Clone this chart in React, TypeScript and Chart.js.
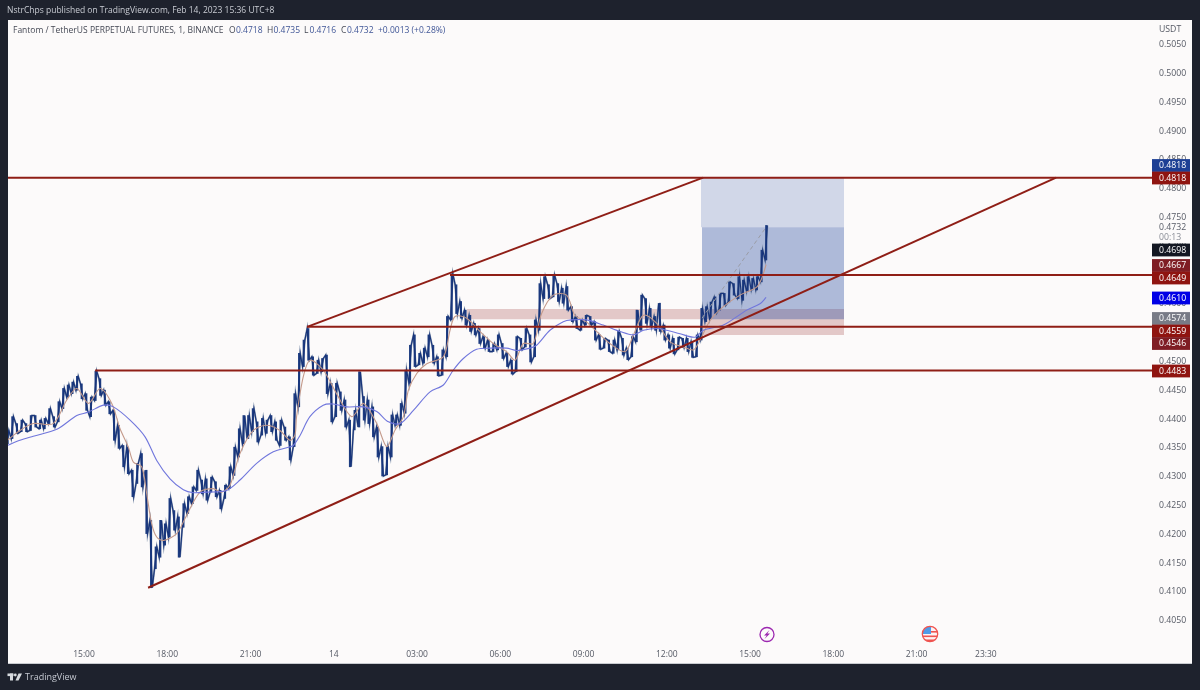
import React, { useEffect, useRef } from 'react';
import { Chart, registerables } from 'chart.js';

Chart.register(...registerables);

// 10 minute candles, first one at 12:15 on Feb 13, hours run on past 24 into Feb 14
const firstCandleHour = 12.25;
const candleStepHours = 1 / 6;

const highs = [
  0.4379, 0.4403, 0.4391, 0.4397, 0.4391, 0.4405, 0.4405, 0.4397, 0.44, 0.4417,
  0.4403, 0.4429, 0.4452, 0.4458, 0.4463, 0.4473, 0.446, 0.4443, 0.4437, 0.4482,
  0.4469, 0.4449, 0.4429, 0.4414, 0.4388, 0.4353, 0.435, 0.431, 0.4322, 0.4339,
  0.431, 0.4223, 0.4177, 0.4223, 0.4217, 0.4261, 0.424, 0.4229, 0.4252, 0.4264,
  0.4281, 0.431, 0.4293, 0.4295, 0.4298, 0.429, 0.4275, 0.4284, 0.4316, 0.435,
  0.4382, 0.4405, 0.4405, 0.4417, 0.4394, 0.44, 0.4397, 0.4405, 0.4394, 0.4397,
  0.4385, 0.4368, 0.4443, 0.4513, 0.4536, 0.4556, 0.4507, 0.4501, 0.4504, 0.451,
  0.4461, 0.4461, 0.4446, 0.4432, 0.4397, 0.4414, 0.4481, 0.4438, 0.4432, 0.442,
  0.4385, 0.4351, 0.4351, 0.4406, 0.4406, 0.4426, 0.4484, 0.4527, 0.4545, 0.4513,
  0.4522, 0.4545, 0.4527, 0.4507, 0.4519, 0.4577, 0.4651, 0.4632, 0.4603, 0.4588,
  0.4579, 0.4565, 0.4556, 0.4542, 0.4536, 0.453, 0.4545, 0.453, 0.4513, 0.4501,
  0.4542, 0.4539, 0.4556, 0.4545, 0.4571, 0.4634, 0.4646, 0.4632, 0.4649, 0.4634,
  0.4626, 0.4629, 0.4594, 0.4577, 0.4571, 0.4579, 0.4577, 0.4568, 0.4545, 0.4539,
  0.4536, 0.4536, 0.4551, 0.4539, 0.4522, 0.4542, 0.4588, 0.4614, 0.4608, 0.4591,
  0.4577, 0.46, 0.4562, 0.4545, 0.4539, 0.4541, 0.4539, 0.4539, 0.4533, 0.4545,
  0.4591, 0.4594, 0.4602, 0.4611, 0.4617, 0.4617, 0.4637, 0.4634, 0.4646, 0.464,
  0.4646, 0.4643, 0.4646, 0.4692, 0.4735,
];

const lows = [
  0.4356, 0.4365, 0.4374, 0.4377, 0.4377, 0.4379, 0.4385, 0.4382, 0.4382, 0.4391,
  0.4385, 0.4394, 0.4417, 0.4437, 0.4443, 0.4449, 0.4434, 0.4414, 0.4403, 0.4431,
  0.444, 0.4423, 0.4408, 0.4362, 0.4348, 0.4316, 0.4304, 0.4264, 0.4287, 0.4281,
  0.42, 0.4106, 0.4139, 0.4159, 0.418, 0.4194, 0.4206, 0.4159, 0.4211, 0.4235,
  0.4252, 0.4275, 0.4269, 0.4258, 0.4272, 0.4264, 0.4243, 0.4261, 0.4278, 0.4301,
  0.4333, 0.4356, 0.4365, 0.4377, 0.4359, 0.4371, 0.4374, 0.4377, 0.4362, 0.4353,
  0.4362, 0.4328, 0.4351, 0.442, 0.449, 0.4501, 0.4475, 0.4478, 0.4481, 0.4443,
  0.4394, 0.4403, 0.4414, 0.4385, 0.4316, 0.438, 0.4385, 0.4397, 0.4391, 0.4368,
  0.4333, 0.43, 0.4302, 0.4333, 0.4388, 0.4388, 0.4409, 0.4461, 0.449, 0.4493,
  0.4496, 0.4507, 0.4496, 0.4474, 0.4475, 0.4507, 0.4571, 0.4582, 0.4574, 0.4562,
  0.4551, 0.4545, 0.453, 0.4522, 0.4516, 0.4516, 0.4519, 0.4504, 0.449, 0.4477,
  0.4481, 0.4519, 0.4524, 0.4498, 0.4507, 0.4553, 0.4608, 0.4608, 0.4611, 0.4603,
  0.46, 0.4588, 0.4568, 0.4556, 0.4553, 0.4562, 0.4562, 0.4536, 0.452, 0.4522,
  0.4516, 0.4513, 0.4519, 0.451, 0.4502, 0.4507, 0.4533, 0.4553, 0.4565, 0.4559,
  0.4553, 0.4551, 0.4536, 0.4522, 0.4512, 0.4519, 0.4523, 0.4516, 0.4506, 0.4507,
  0.4536, 0.4568, 0.4573, 0.4582, 0.4588, 0.4596, 0.4602, 0.4614, 0.4608, 0.4605,
  0.462, 0.4623, 0.4623, 0.4637, 0.4675,
];

const closes = [
  0.4365, 0.4397, 0.4377, 0.4391, 0.4382, 0.4397, 0.4388, 0.4391, 0.4394, 0.4405,
  0.4394, 0.442, 0.4443, 0.4449, 0.4458, 0.4466, 0.4443, 0.442, 0.4434, 0.4466,
  0.4446, 0.4429, 0.4411, 0.4379, 0.4368, 0.4333, 0.4316, 0.4298, 0.431, 0.4298,
  0.4211, 0.4142, 0.4159, 0.42, 0.42, 0.4235, 0.4217, 0.4206, 0.424, 0.4258,
  0.4275, 0.4293, 0.4281, 0.4278, 0.4284, 0.4272, 0.4258, 0.4275, 0.4304, 0.4342,
  0.4368, 0.4382, 0.4388, 0.4394, 0.4377, 0.4388, 0.4391, 0.4388, 0.4374, 0.4382,
  0.4371, 0.4345, 0.4426, 0.4501, 0.4524, 0.4513, 0.449, 0.4493, 0.4496, 0.4461,
  0.4403, 0.4449, 0.4432, 0.4403, 0.4362, 0.4403, 0.4443, 0.442, 0.4414, 0.4385,
  0.4351, 0.4322, 0.4339, 0.4397, 0.4397, 0.4414, 0.4467, 0.4513, 0.4501, 0.4501,
  0.451, 0.4524, 0.4507, 0.4481, 0.451, 0.4571, 0.4634, 0.46, 0.4588, 0.4574,
  0.4562, 0.4556, 0.4539, 0.453, 0.4524, 0.4524, 0.4527, 0.4513, 0.4498, 0.4484,
  0.453, 0.4527, 0.4545, 0.451, 0.4559, 0.4623, 0.4626, 0.462, 0.4629, 0.4617,
  0.4611, 0.46, 0.4574, 0.4562, 0.4565, 0.4571, 0.4568, 0.4545, 0.4527, 0.453,
  0.4522, 0.453, 0.4539, 0.4516, 0.451, 0.4536, 0.4562, 0.4603, 0.4588, 0.4571,
  0.4562, 0.4559, 0.4545, 0.453, 0.4524, 0.4533, 0.453, 0.4527, 0.451, 0.4539,
  0.4574, 0.4582, 0.4596, 0.4591, 0.4608, 0.4602, 0.4631, 0.462, 0.4628, 0.4631,
  0.4631, 0.4634, 0.4637, 0.4678, 0.4732,
];

const fastEmaHours = [
  12.24, 12.69, 13.17, 13.89, 14.38, 14.74, 15.16, 15.58, 16.0, 16.3, 16.6, 16.78, 17.08, 17.26, 17.44,
  17.62, 17.86, 18.34, 18.7, 19.18, 19.66, 19.96, 20.26, 20.62, 21.1, 21.58, 22.06, 22.42, 22.6, 22.66,
  22.9, 23.14, 23.62, 24.1, 24.65, 25.07, 25.55, 25.91, 26.21, 26.51, 26.69, 26.99, 27.35, 27.95, 28.19,
  28.37, 28.79, 29.27, 29.75, 30.23, 30.53, 30.83, 31.19, 31.49, 31.91, 32.39, 32.69, 33.09, 33.47, 33.95,
  34.5, 34.8, 35.16, 35.64, 36.12, 36.6, 36.96, 37.2, 37.56, 38.04, 38.64, 39.24, 39.42, 39.58,
];
const fastEmaPrices = [
  0.4362, 0.4379, 0.4391, 0.4391, 0.4432, 0.4452, 0.4426, 0.4452, 0.4426, 0.4382, 0.435, 0.4324, 0.4316, 0.4269, 0.4217,
  0.4194, 0.4188, 0.42, 0.4232, 0.4272, 0.4278, 0.4272, 0.4284, 0.4339, 0.4379, 0.4388, 0.4379, 0.4362, 0.4371, 0.4403,
  0.4472, 0.4501, 0.4484, 0.4443, 0.4403, 0.4426, 0.4391, 0.4351, 0.438, 0.4403, 0.4449, 0.4478, 0.4495, 0.4507, 0.4553,
  0.4577, 0.4574, 0.4551, 0.453, 0.4516, 0.4501, 0.453, 0.453, 0.4582, 0.4614, 0.4614, 0.4579, 0.4568, 0.4551, 0.453,
  0.4516, 0.4545, 0.4579, 0.4565, 0.4533, 0.4524, 0.4519, 0.4536, 0.457, 0.4594, 0.4614, 0.4628, 0.4643, 0.4667,
];

const slowEmaHours = [
  12.24, 12.69, 13.17, 14.02, 14.74, 15.16, 15.7, 16.06, 16.66, 17.2, 17.62, 18.1, 18.58, 18.94, 19.42,
  20.14, 20.62, 21.22, 21.82, 22.3, 22.54, 22.78, 23.14, 23.62, 23.98, 24.47, 25.07, 25.55, 25.97, 26.39,
  26.87, 27.47, 27.95, 28.31, 28.67, 29.15, 29.63, 30.23, 30.59, 31.07, 31.31, 31.79, 32.27, 32.57, 33.11,
  33.71, 34.31, 34.8, 35.16, 35.64, 36.0, 36.48, 37.02, 37.32, 38.04, 38.88, 39.36, 39.58,
];
const slowEmaPrices = [
  0.4353, 0.4362, 0.4369, 0.4381, 0.4405, 0.4411, 0.4423, 0.442, 0.4397, 0.4368, 0.4327, 0.4295, 0.4276, 0.4271, 0.4272,
  0.4275, 0.4293, 0.4322, 0.4342, 0.4349, 0.4353, 0.437, 0.4403, 0.4423, 0.4425, 0.442, 0.442, 0.4412, 0.4394, 0.4391,
  0.4414, 0.4446, 0.4458, 0.4484, 0.4504, 0.452, 0.4522, 0.4522, 0.4518, 0.4522, 0.4527, 0.4553, 0.4568, 0.4571, 0.4571,
  0.4562, 0.4551, 0.4545, 0.4553, 0.4556, 0.4553, 0.4547, 0.4541, 0.4553, 0.4562, 0.4588, 0.4599, 0.461,
];

// drawn trend and level lines: [startHour, startPrice, endHour, endPrice]
const levelLines = [
  [12.26, 0.4818, 53.49, 0.4818],
  [28.19, 0.4649, 53.49, 0.4649],
  [23.04, 0.4559, 53.49, 0.4559],
  [15.4, 0.4483, 53.49, 0.4483],
  [17.31, 0.4106, 50.03, 0.4818],
  [23.04, 0.4559, 37.31, 0.4818],
];

// [startHour, endHour, low, high, colour]
const zones: [number, number, number, number, string][] = [
  [37.23, 42.39, 0.4732, 0.4818, 'rgba(40,75,160,0.2)'],
  [37.27, 42.39, 0.4572, 0.4732, 'rgba(40,75,160,0.37)'],
  [28.8, 42.39, 0.4572, 0.459, 'rgba(150,50,50,0.25)'],
  [37.23, 42.39, 0.4545, 0.4572, 'rgba(150,50,50,0.25)'],
];

const plannedMoveHours = [37.27, 39.58];
const plannedMovePrices = [0.4574, 0.4732];

const yTicks = [
  0.405, 0.41, 0.415, 0.42, 0.425, 0.43, 0.435, 0.44, 0.445, 0.45, 0.455, 0.46, 0.465, 0.47, 0.475, 0.48, 0.485, 0.49,
  0.495, 0.5, 0.505,
];
const xTickHours = [15, 18, 21, 24, 27, 30, 33, 36, 39, 42, 45, 47.5];
const xTickLabels = ['15:00', '18:00', '21:00', '14', '03:00', '06:00', '09:00', '12:00', '15:00', '18:00', '21:00', '23:30'];

// price tags on the axis: text, colour, centre y
const priceTags: [string, string, number][] = [
  ['0.4818', '#1c3f94', 165.5],
  ['0.4818', '#8f1410', 178],
  ['0.4698', '#131722', 250],
  ['0.4667', '#7f1d24', 265.5],
  ['0.4649', '#8f1410', 278],
  ['0.4610', '#0000e6', 298],
  ['0.4574', '#787b86', 318.5],
  ['0.4559', '#8f1410', 331],
  ['0.4546', '#7f1d24', 343.5],
  ['0.4483', '#8f1410', 371],
];

const FONT = '"Open Sans", sans-serif';
const DARK = '#1e222d';
const RED = '#8f1e16';

const toPoints = (xs: number[], ys: number[]) => xs.map((x, i) => ({ x, y: ys[i] }));

const chromePlugin = {
  id: 'chrome',
  beforeDraw(chart: any) {
    const { ctx } = chart;
    ctx.save();
    ctx.fillStyle = DARK;
    ctx.fillRect(0, 0, 1200, 690);
    ctx.fillStyle = '#fcfafa';
    ctx.fillRect(8, 20, 1184, 644);
    ctx.fillStyle = '#c9cbd0';
    ctx.fillRect(8, 663, 1184, 1);
    ctx.restore();
  },
  afterDraw(chart: any) {
    const { ctx } = chart;
    ctx.save();
    ctx.textBaseline = 'middle';

    // page header and footer
    ctx.textAlign = 'left';
    ctx.fillStyle = '#c9ccd3';
    ctx.font = `8.5px ${FONT}`;
    ctx.fillText('NstrChps published on TradingView.com, Feb 14, 2023 15:36 UTC+8', 7, 11);
    ctx.font = `9px ${FONT}`;
    ctx.fillStyle = '#c4c8d0';
    ctx.fillText('TradingView', 25, 677);

    // logo
    ctx.fillStyle = '#d8dbe0';
    ctx.fillRect(7.5, 673.5, 6, 2.6);
    ctx.fillRect(10, 673.5, 3, 7);
    ctx.beginPath();
    ctx.arc(15.3, 675, 1.4, 0, Math.PI * 2);
    ctx.fill();
    ctx.beginPath();
    ctx.moveTo(18.5, 673.5);
    ctx.lineTo(22, 673.5);
    ctx.lineTo(18.5, 680.5);
    ctx.lineTo(15.5, 680.5);
    ctx.closePath();
    ctx.fill();

    // legend row
    ctx.font = `8.5px ${FONT}`;
    ctx.fillStyle = '#454955';
    ctx.fillText('Fantom / TetherUS PERPETUAL FUTURES, 1, BINANCE', 13, 31);
    const ohlc: [string, string, number, number][] = [
      ['O', '0.4718', 229, 236],
      ['H', '0.4735', 267, 273.5],
      ['L', '0.4716', 304, 309.5],
      ['C', '0.4732', 341, 347],
    ];
    ohlc.forEach(([k, v, kx, vx]) => {
      ctx.fillStyle = '#454955';
      ctx.fillText(k, kx, 31);
      ctx.fillStyle = '#3f5596';
      ctx.fillText(v, vx, 31);
    });
    ctx.fillStyle = '#3f5596';
    ctx.fillText('+0.0013 (+0.28%)', 378, 31);

    // axis extras
    ctx.font = `8.7px ${FONT}`;
    ctx.fillStyle = '#555964';
    ctx.fillText('USDT', 1159, 30);
    ctx.fillStyle = '#fcfafa';
    ctx.fillRect(1153, 221, 37, 22);
    ctx.fillStyle = '#555964';
    ctx.fillText('0.4732', 1159, 227.5);
    ctx.fillStyle = '#8a8d96';
    ctx.fillText('00:13', 1159, 238);

    // price tags
    ctx.font = `8.7px ${FONT}`;
    priceTags.forEach(([text, colour, y]) => {
      ctx.fillStyle = colour;
      ctx.fillRect(1152, y - 6.4, 38, 12.8);
      ctx.fillStyle = '#ffffff';
      ctx.fillText(text, 1159, y + 0.3);
    });

    // event icons
    ctx.strokeStyle = '#9c27b0';
    ctx.lineWidth = 1.3;
    ctx.beginPath();
    ctx.arc(767, 634.5, 7, 0, Math.PI * 2);
    ctx.stroke();
    ctx.fillStyle = '#9c27b0';
    ctx.beginPath();
    ctx.moveTo(769.5, 630);
    ctx.lineTo(764, 635.5);
    ctx.lineTo(766.7, 635.5);
    ctx.lineTo(764.5, 639);
    ctx.lineTo(770, 633.5);
    ctx.lineTo(767.3, 633.5);
    ctx.closePath();
    ctx.fill();

    ctx.save();
    ctx.beginPath();
    ctx.arc(930, 634, 7.5, 0, Math.PI * 2);
    ctx.clip();
    ctx.fillStyle = '#fdf2f2';
    ctx.fillRect(922, 626, 16, 16);
    ctx.fillStyle = '#ef5350';
    [631, 635.5, 639.5].forEach((y) => ctx.fillRect(922, y, 16, 1.6));
    ctx.fillStyle = '#4f9be8';
    ctx.fillRect(922, 626, 9, 8);
    ctx.restore();
    ctx.strokeStyle = '#ef5350';
    ctx.lineWidth = 1.3;
    ctx.beginPath();
    ctx.arc(930, 634, 7.7, 0, Math.PI * 2);
    ctx.stroke();

    ctx.restore();
  },
};

export default function App() {
  const canvasRef = useRef<HTMLCanvasElement>(null);

  useEffect(() => {
    if (!canvasRef.current) return;
    document.body.style.margin = '0';

    const hours = closes.map((_, i) => firstCandleHour + i * candleStepHours);

    // each candle's range walked in its own direction, so the band looks scribbled like the 1 minute bars
    const walk = hours.flatMap((x, i) => {
      const up = i === 0 || closes[i] >= closes[i - 1];
      return [
        { x: x - candleStepHours / 4, y: up ? lows[i] : highs[i] },
        { x: x + candleStepHours / 4, y: up ? highs[i] : lows[i] },
      ];
    });

    const datasets: any[] = [
      ...zones.map(([x0, x1, low, high, colour]) => ({
        type: 'line',
        data: [
          { x: x0, y: high },
          { x: x1, y: high },
        ],
        borderWidth: 0,
        pointRadius: 0,
        backgroundColor: colour,
        fill: { target: { value: low } },
        order: 10,
      })),
      {
        type: 'line',
        data: walk,
        borderColor: '#7f90aa',
        borderWidth: 1.9,
        pointRadius: 0,
        order: 7,
      },
      {
        type: 'bar',
        data: hours.map((x, i) => ({ x, y: [lows[i], highs[i]] })),
        backgroundColor: '#1d3c80',
        barThickness: 1.4,
        grouped: false,
        order: 6,
      },
      {
        type: 'line',
        data: walk,
        borderColor: '#17337a',
        borderWidth: 1.1,
        pointRadius: 0,
        order: 5,
      },
      {
        type: 'line',
        data: toPoints(fastEmaHours, fastEmaPrices),
        borderColor: '#c49a8b',
        borderWidth: 1.1,
        pointRadius: 0,
        tension: 0.3,
        order: 4,
      },
      {
        type: 'line',
        data: toPoints(slowEmaHours, slowEmaPrices),
        borderColor: '#7076dc',
        borderWidth: 1.1,
        pointRadius: 0,
        tension: 0.3,
        order: 3,
      },
      {
        type: 'line',
        data: toPoints(plannedMoveHours, plannedMovePrices),
        borderColor: '#9a9ca6',
        borderWidth: 1,
        borderDash: [4, 3],
        pointRadius: 0,
        order: 2,
      },
      ...levelLines.map(([x0, y0, x1, y1]) => ({
        type: 'line',
        data: [
          { x: x0, y: y0 },
          { x: x1, y: y1 },
        ],
        borderColor: RED,
        borderWidth: 2,
        pointRadius: 0,
        order: 1,
      })),
    ];

    const chart = new Chart(canvasRef.current, {
      type: 'bar',
      data: { datasets },
      options: {
        animation: false,
        responsive: false,
        devicePixelRatio: 1,
        layout: { padding: { left: 8, right: 8, top: 21, bottom: 26 } },
        plugins: { legend: { display: false }, tooltip: { enabled: false } },
        scales: {
          x: {
            type: 'linear',
            offset: false,
            min: 12.261,
            max: 53.486,
            grid: { display: false, drawTicks: false },
            border: { display: false },
            afterBuildTicks: (scale: any) => {
              scale.ticks = xTickHours.map((value) => ({ value }));
            },
            afterFit: (scale: any) => {
              scale.height = 19;
            },
            ticks: {
              autoSkip: false,
              maxRotation: 0,
              padding: 4,
              color: '#555964',
              font: { family: FONT, size: 8.5 },
              callback: (value: any) => xTickLabels[xTickHours.indexOf(Number(value))],
            },
          },
          y: {
            type: 'linear',
            position: 'right',
            min: 0.40066,
            max: 0.508993,
            grid: { display: false, drawTicks: false },
            border: { display: false },
            afterBuildTicks: (scale: any) => {
              scale.ticks = yTicks.map((value) => ({ value }));
            },
            afterFit: (scale: any) => {
              scale.width = 40;
            },
            ticks: {
              autoSkip: false,
              padding: 7,
              labelOffset: 0.8,
              color: '#555964',
              font: { family: FONT, size: 8.7 },
              callback: (value: any) => Number(value).toFixed(4),
            },
          },
        },
      },
      plugins: [chromePlugin],
    } as any);

    return () => chart.destroy();
  }, []);

  return <canvas ref={canvasRef} width={1200} height={690} style={{ display: 'block' }} />;
}
